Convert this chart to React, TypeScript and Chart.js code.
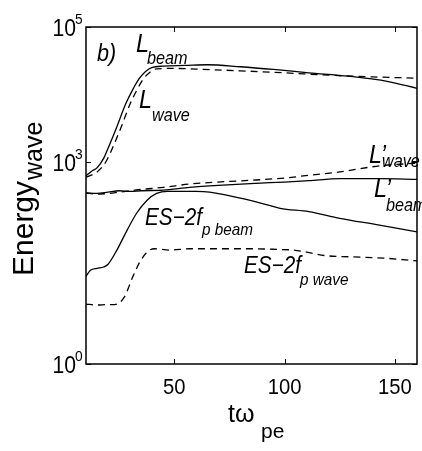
import React, { useEffect, useRef } from "react";
import { Chart, registerables } from "chart.js";

Chart.register(...registerables);

// ---- data (time in units of 1/omega_pe, energies) ----
const lBeamT = [10, 13, 15, 18, 20, 24, 28, 31, 34, 37, 40, 45, 55, 65, 80, 95, 111, 129, 147, 160];
const lBeamV = [617, 741, 813, 1122, 1585, 3311, 7244, 11480, 16980, 21880, 25120, 26300, 26900, 27540, 25700, 23440, 20890, 18620, 15490, 12300];

const lWaveT = [10, 13, 15, 18, 20, 23, 26, 30, 33, 36, 39, 42, 50, 60, 80, 100, 120, 140, 160];
const lWaveV = [589, 646, 708, 891, 1148, 1905, 3311, 7244, 11480, 16980, 21380, 23990, 24270, 23710, 22390, 20890, 19280, 18200, 17380];

const lpBeamT = [10, 15, 20, 25, 30, 35, 45, 57, 70, 87, 100, 111, 125, 143, 160];
const lpBeamV = [347, 339, 355, 372, 363, 372, 380, 417, 447, 479, 501, 525, 562, 562, 550];

const lpWaveT = [10, 15, 20, 25, 30, 35, 45, 57, 70, 87, 100, 111, 125, 143, 160];
const lpWaveV = [347, 331, 339, 355, 372, 389, 417, 468, 501, 537, 575, 631, 708, 871, 955];

const esBeamT = [10, 12, 15, 18, 20, 24, 28.7, 33, 37.7, 42, 47, 54, 60, 66, 80, 90, 98, 111, 125, 143, 160];
const esBeamV = [20, 24.5, 26.3, 27.5, 30.2, 49, 97.7, 174, 269, 339, 363, 363, 363, 355, 288, 240, 204, 182, 145, 115, 91];

const esWaveT = [10, 15, 20, 23, 27.5, 31, 34.5, 38, 41, 48, 57, 70, 85, 97, 104, 110, 118, 130, 145, 160];
const esWaveV = [7.76, 7.5, 7.6, 7.6, 10, 19, 33, 46.8, 51.3, 49, 51.3, 51.3, 51.3, 50.1, 49, 45.7, 40.7, 38.9, 37.2, 33.9];

const xTicks = [50, 100, 150];
const yTicks = [1, 1000, 100000];
const yTickExp = ["0", "3", "5"];

const FONT = '"Liberation Sans", Arial, Helvetica, sans-serif';

const pts = (t: number[], v: number[]) => t.map((x, i) => ({ x, y: v[i] }));

function txt(ctx: CanvasRenderingContext2D, s: string, x: number, y: number, sx: number) {
  ctx.save();
  ctx.translate(x, y);
  ctx.scale(sx, 1);
  ctx.fillText(s, 0, 0);
  ctx.restore();
}

function sub(ctx: CanvasRenderingContext2D, main: string, s: string, x: number, y: number, mainPx: number, subPx: number, sdx: number, sdy: number, italic = true, sx = 0.9) {
  const st = italic ? "italic " : "";
  ctx.font = `${st}${mainPx}px ${FONT}`;
  txt(ctx, main, x, y, sx);
  ctx.font = `${st}${subPx}px ${FONT}`;
  txt(ctx, s, x + sdx, y + sdy, sx);
}

const decor = {
  id: "decor",
  afterDraw(chart: any) {
    const { ctx, chartArea: a, scales } = chart;
    const xs = scales.x;
    const ys = scales.y;
    ctx.save();
    ctx.fillStyle = "#000";
    ctx.strokeStyle = "#000";
    // frame
    ctx.lineWidth = 1.5;
    ctx.strokeRect(a.left, a.top, a.right - a.left, a.bottom - a.top);
    // inward ticks
    ctx.lineWidth = 1;
    ctx.beginPath();
    xTicks.forEach((t) => {
      const px = Math.round(xs.getPixelForValue(t)) + 0.5;
      ctx.moveTo(px, a.bottom);
      ctx.lineTo(px, a.bottom - 5);
      ctx.moveTo(px, a.top);
      ctx.lineTo(px, a.top + 5);
    });
    yTicks.forEach((v) => {
      const py = Math.round(ys.getPixelForValue(v)) + 0.5;
      ctx.moveTo(a.left, py);
      ctx.lineTo(a.left + 5, py);
      ctx.moveTo(a.right, py);
      ctx.lineTo(a.right - 5, py);
    });
    ctx.stroke();

    // x tick labels
    ctx.font = `22px ${FONT}`;
    ctx.textAlign = "center";
    ctx.textBaseline = "alphabetic";
    xTicks.forEach((t) => {
      txt(ctx, String(t), xs.getPixelForValue(t), a.bottom + 30, 0.92);
    });
    // y tick labels 10^n
    yTicks.forEach((v, i) => {
      const py = ys.getPixelForValue(v);
      ctx.textAlign = "right";
      ctx.font = `23px ${FONT}`;
      txt(ctx, "10", a.left - 10, py + 9, 0.92);
      ctx.textAlign = "left";
      ctx.font = `15px ${FONT}`;
      txt(ctx, yTickExp[i], a.left - 11, py - 3, 0.92);
    });

    // axis titles
    ctx.textAlign = "left";
    sub(ctx, "t\u03C9", "pe", 228, 422, 25, 21, 33, 16, false, 1);
    ctx.save();
    ctx.translate(33, 276);
    ctx.rotate(-Math.PI / 2);
    ctx.font = `30px ${FONT}`;
    ctx.fillText("Energy", 0, 0);
    const w = ctx.measureText("Energy").width;
    ctx.font = `25px ${FONT}`;
    ctx.fillText("wave", w + 1, 9);
    ctx.restore();

    // annotations
    ctx.font = `italic 24px ${FONT}`;
    txt(ctx, "b)", 97, 61, 0.9);
    sub(ctx, "L", "beam", 136, 52, 26, 18, 11, 12);
    sub(ctx, "L", "wave", 139, 108, 26, 18, 13, 13);
    sub(ctx, "L\u2019", "wave", 369, 163, 26, 18, 13, 4);
    sub(ctx, "L\u2019", "beam", 374, 197, 26, 18, 12, 14);
    sub(ctx, "ES\u22122f", "p beam", 145, 225, 23, 17, 57, 10);
    sub(ctx, "ES\u22122f", "p wave", 244, 273, 23, 17, 56, 12);
    ctx.restore();
  },
};

export default function App() {
  const ref = useRef<HTMLCanvasElement | null>(null);
  useEffect(() => {
    document.body.style.margin = "0";
    if (!ref.current) return;
    const solid = (t: number[], v: number[]) => ({
      data: pts(t, v),
      borderColor: "#000",
      borderWidth: 1.3,
      pointRadius: 0,
      fill: false,
      cubicInterpolationMode: "monotone" as const,
    });
    const dashed = (t: number[], v: number[]) => ({ ...solid(t, v), borderDash: [7, 5] });
    const chart = new Chart(ref.current, {
      type: "line",
      data: {
        datasets: [
          solid(lBeamT, lBeamV),
          dashed(lWaveT, lWaveV),
          solid(lpBeamT, lpBeamV),
          dashed(lpWaveT, lpWaveV),
          solid(esBeamT, esBeamV),
          dashed(esWaveT, esWaveV),
        ] as any,
      },
      options: {
        responsive: false,
        animation: false,
        devicePixelRatio: 1,
        layout: { padding: { left: 86, right: 5, top: 27, bottom: 87 } },
        plugins: { legend: { display: false }, tooltip: { enabled: false } },
        scales: {
          x: { type: "linear", min: 10, max: 160, display: false },
          y: { type: "logarithmic", min: 1, max: 100000, display: false },
        },
      },
      plugins: [decor],
    });
    return () => chart.destroy();
  }, []);
  return (
    <canvas
      ref={ref}
      width={422}
      height={451}
      style={{ position: "absolute", left: 0, top: 0, width: 422, height: 451 }}
    />
  );
}
